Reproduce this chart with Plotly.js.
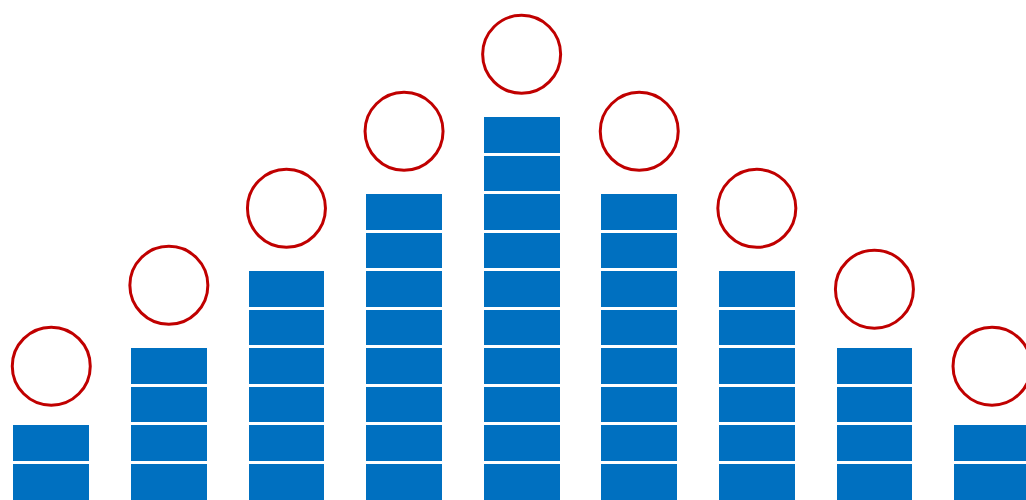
<!DOCTYPE html>
<html>
<head>
<meta charset="utf-8">
<script src="https://cdn.plot.ly/plotly-3.0.1.min.js"></script>
<style>
  html, body { margin: 0; padding: 0; background: #ffffff; }
  #chart { width: 1026px; height: 500px; }
</style>
</head>
<body>
<div id="chart"></div>
<script>
// Data
const categories = ['C1', 'C2', 'C3', 'C4', 'C5', 'C6', 'C7', 'C8', 'C9'];
const blockCounts = [2, 4, 6, 8, 10, 8, 6, 4, 2];
const circleLevels = [3.5, 5.6, 7.6, 9.6, 11.6, 9.6, 7.6, 5.5, 3.5];

const maxBlocks = Math.max.apply(null, blockCounts);
const traces = [];
for (let k = 0; k < maxBlocks; k++) {
  traces.push({
    type: 'bar',
    x: categories,
    y: blockCounts.map(c => (c > k ? 1 : null)),
    width: 0.67,
    marker: { color: '#0070c0', line: { color: '#ffffff', width: 3 } },
    hoverinfo: 'skip',
    showlegend: false
  });
}
traces.push({
  type: 'scatter',
  mode: 'markers',
  x: categories,
  y: circleLevels,
  marker: {
    symbol: 'circle-open',
    size: 78,
    color: '#c00000',
    line: { color: '#c00000', width: 3 }
  },
  hoverinfo: 'skip',
  showlegend: false
});

const layout = {
  width: 1026,
  height: 500,
  margin: { l: 0, r: 0, t: 0, b: 0, pad: 0 },
  paper_bgcolor: '#ffffff',
  plot_bgcolor: '#ffffff',
  barmode: 'stack',
  showlegend: false,
  xaxis: { type: 'category', range: [-0.436, 8.289], visible: false, fixedrange: true },
  yaxis: { range: [0.026, 13.01], visible: false, fixedrange: true }
};

Plotly.newPlot('chart', traces, layout, { displayModeBar: false, staticPlot: true });
</script>
</body>
</html>
